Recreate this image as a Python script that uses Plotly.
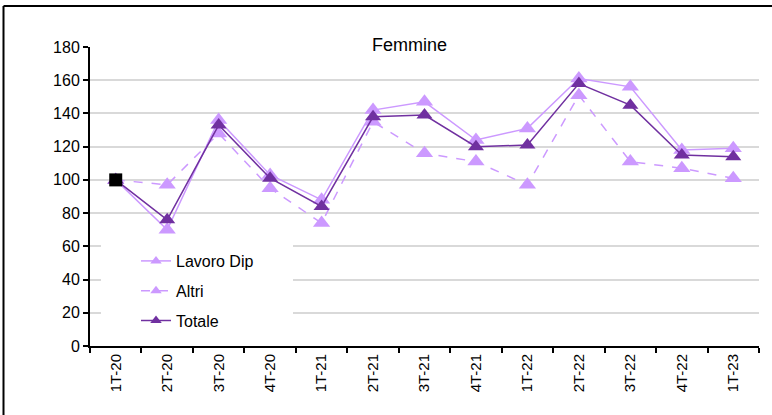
import plotly.graph_objects as go

# quarters
periods = ['1T-20', '2T-20', '3T-20', '4T-20', '1T-21', '2T-21', '3T-21',
           '4T-21', '1T-22', '2T-22', '3T-22', '4T-22', '1T-23']

lavoro_dip = [100, 70, 136, 103, 88, 142, 147, 124, 131, 161, 156, 118, 119]
altri = [100, 97, 128, 95, 74, 135, 116, 111, 97, 151, 111, 107, 101]
totale = [100, 76, 133, 101, 84, 138, 139, 120, 121, 158, 145, 115, 114]

y_ticks = [0, 20, 40, 60, 80, 100, 120, 140, 160, 180]

light = '#CC99FF'
dark = '#7030A0'
font_fam = 'Arial, Liberation Sans, sans-serif'

series = [
    ('Lavoro Dip', lavoro_dip, light, 'solid', 15, 'a'),
    ('Altri', altri, light, 'dash', 15, 'b'),
    ('Totale', totale, dark, 'solid', 14, 'c'),
]

fig = go.Figure()

for name, vals, col, dash, msize, grp in series:
    fig.add_trace(go.Scatter(
        x=periods, y=vals, name=name, mode='lines+markers',
        line=dict(color=col, width=1.5, dash=dash),
        marker=dict(symbol='triangle-up', size=msize, color=col),
        legendgroup=grp, showlegend=False
    ))

# legend entries with small markers, like the original
for name, vals, col, dash, msize, grp in series:
    fig.add_trace(go.Scatter(
        x=[None], y=[None], name=name, mode='lines+markers',
        line=dict(color=col, width=1.5, dash=dash),
        marker=dict(symbol='triangle-up', size=10, color=col),
        legendgroup=grp
    ))

# base period marker
fig.add_trace(go.Scatter(
    x=periods[:1], y=totale[:1], mode='markers',
    marker=dict(symbol='square', size=13, color='black'),
    showlegend=False
))

# title inside plot, masking the top gridline
fig.add_annotation(
    x=0.478, xref='paper', y=180, yref='y',
    text='Femmine', showarrow=False,
    font=dict(family=font_fam, size=18, color='black'),
    bgcolor='white', borderpad=6, yshift=2
)

# outer frame (cut off at right and bottom)
W, H = 772, 415
ml, mr, mt, mb = 90, 13, 47, 69
pw, ph = W - ml - mr, H - mt - mb


def px_x(p):
    return (p - ml) / pw


def px_y(p):
    return (H - mb - p) / ph


def cat_x(p):
    return -0.5 + px_x(p) * len(periods)


fig.add_shape(type='line', xref='paper', yref='paper',
              x0=px_x(3.5), x1=px_x(3.5), y0=px_y(6), y1=px_y(420),
              line=dict(color='black', width=2))
fig.add_shape(type='line', xref='paper', yref='paper',
              x0=px_x(3.5), x1=px_x(780), y0=px_y(6), y1=px_y(6),
              line=dict(color='black', width=2))

# white box behind the legend, hiding the gridlines
fig.add_shape(type='rect', xref='x', yref='y',
              x0=cat_x(101), x1=cat_x(293), y0=1, y1=63,
              fillcolor='white', line=dict(width=0), layer='between')

fig.update_layout(
    width=W,
    height=H,
    margin=dict(l=ml, r=mr, t=mt, b=mb),
    paper_bgcolor='white',
    plot_bgcolor='white',
    font=dict(family=font_fam, size=16, color='black'),
    legend=dict(
        x=px_x(136), y=px_y(244), xanchor='left', yanchor='top',
        bgcolor='rgba(0,0,0,0)', tracegroupgap=6,
        font=dict(family=font_fam, size=16, color='black')
    ),
    xaxis=dict(
        type='category',
        range=[-0.5, len(periods) - 0.5],
        showgrid=False,
        showline=True, linecolor='black', linewidth=2,
        ticks='outside', tickson='boundaries', ticklen=5,
        tickcolor='black', tickwidth=1.5,
        tickangle=-90,
        tickfont=dict(family=font_fam, size=15, color='black'),
    ),
    yaxis=dict(
        range=[0, 180],
        tickvals=y_ticks,
        showgrid=True, gridcolor='#D9D9D9', gridwidth=1.5,
        zeroline=False,
        showline=True, linecolor='black', linewidth=2,
        ticks='outside', ticklen=5, tickcolor='black', tickwidth=1.5,
        tickfont=dict(family=font_fam, size=16, color='black'),
    ),
)

fig.write_html('out.html', config={'displayModeBar': False},
               post_script="document.body.style.margin='0';")
